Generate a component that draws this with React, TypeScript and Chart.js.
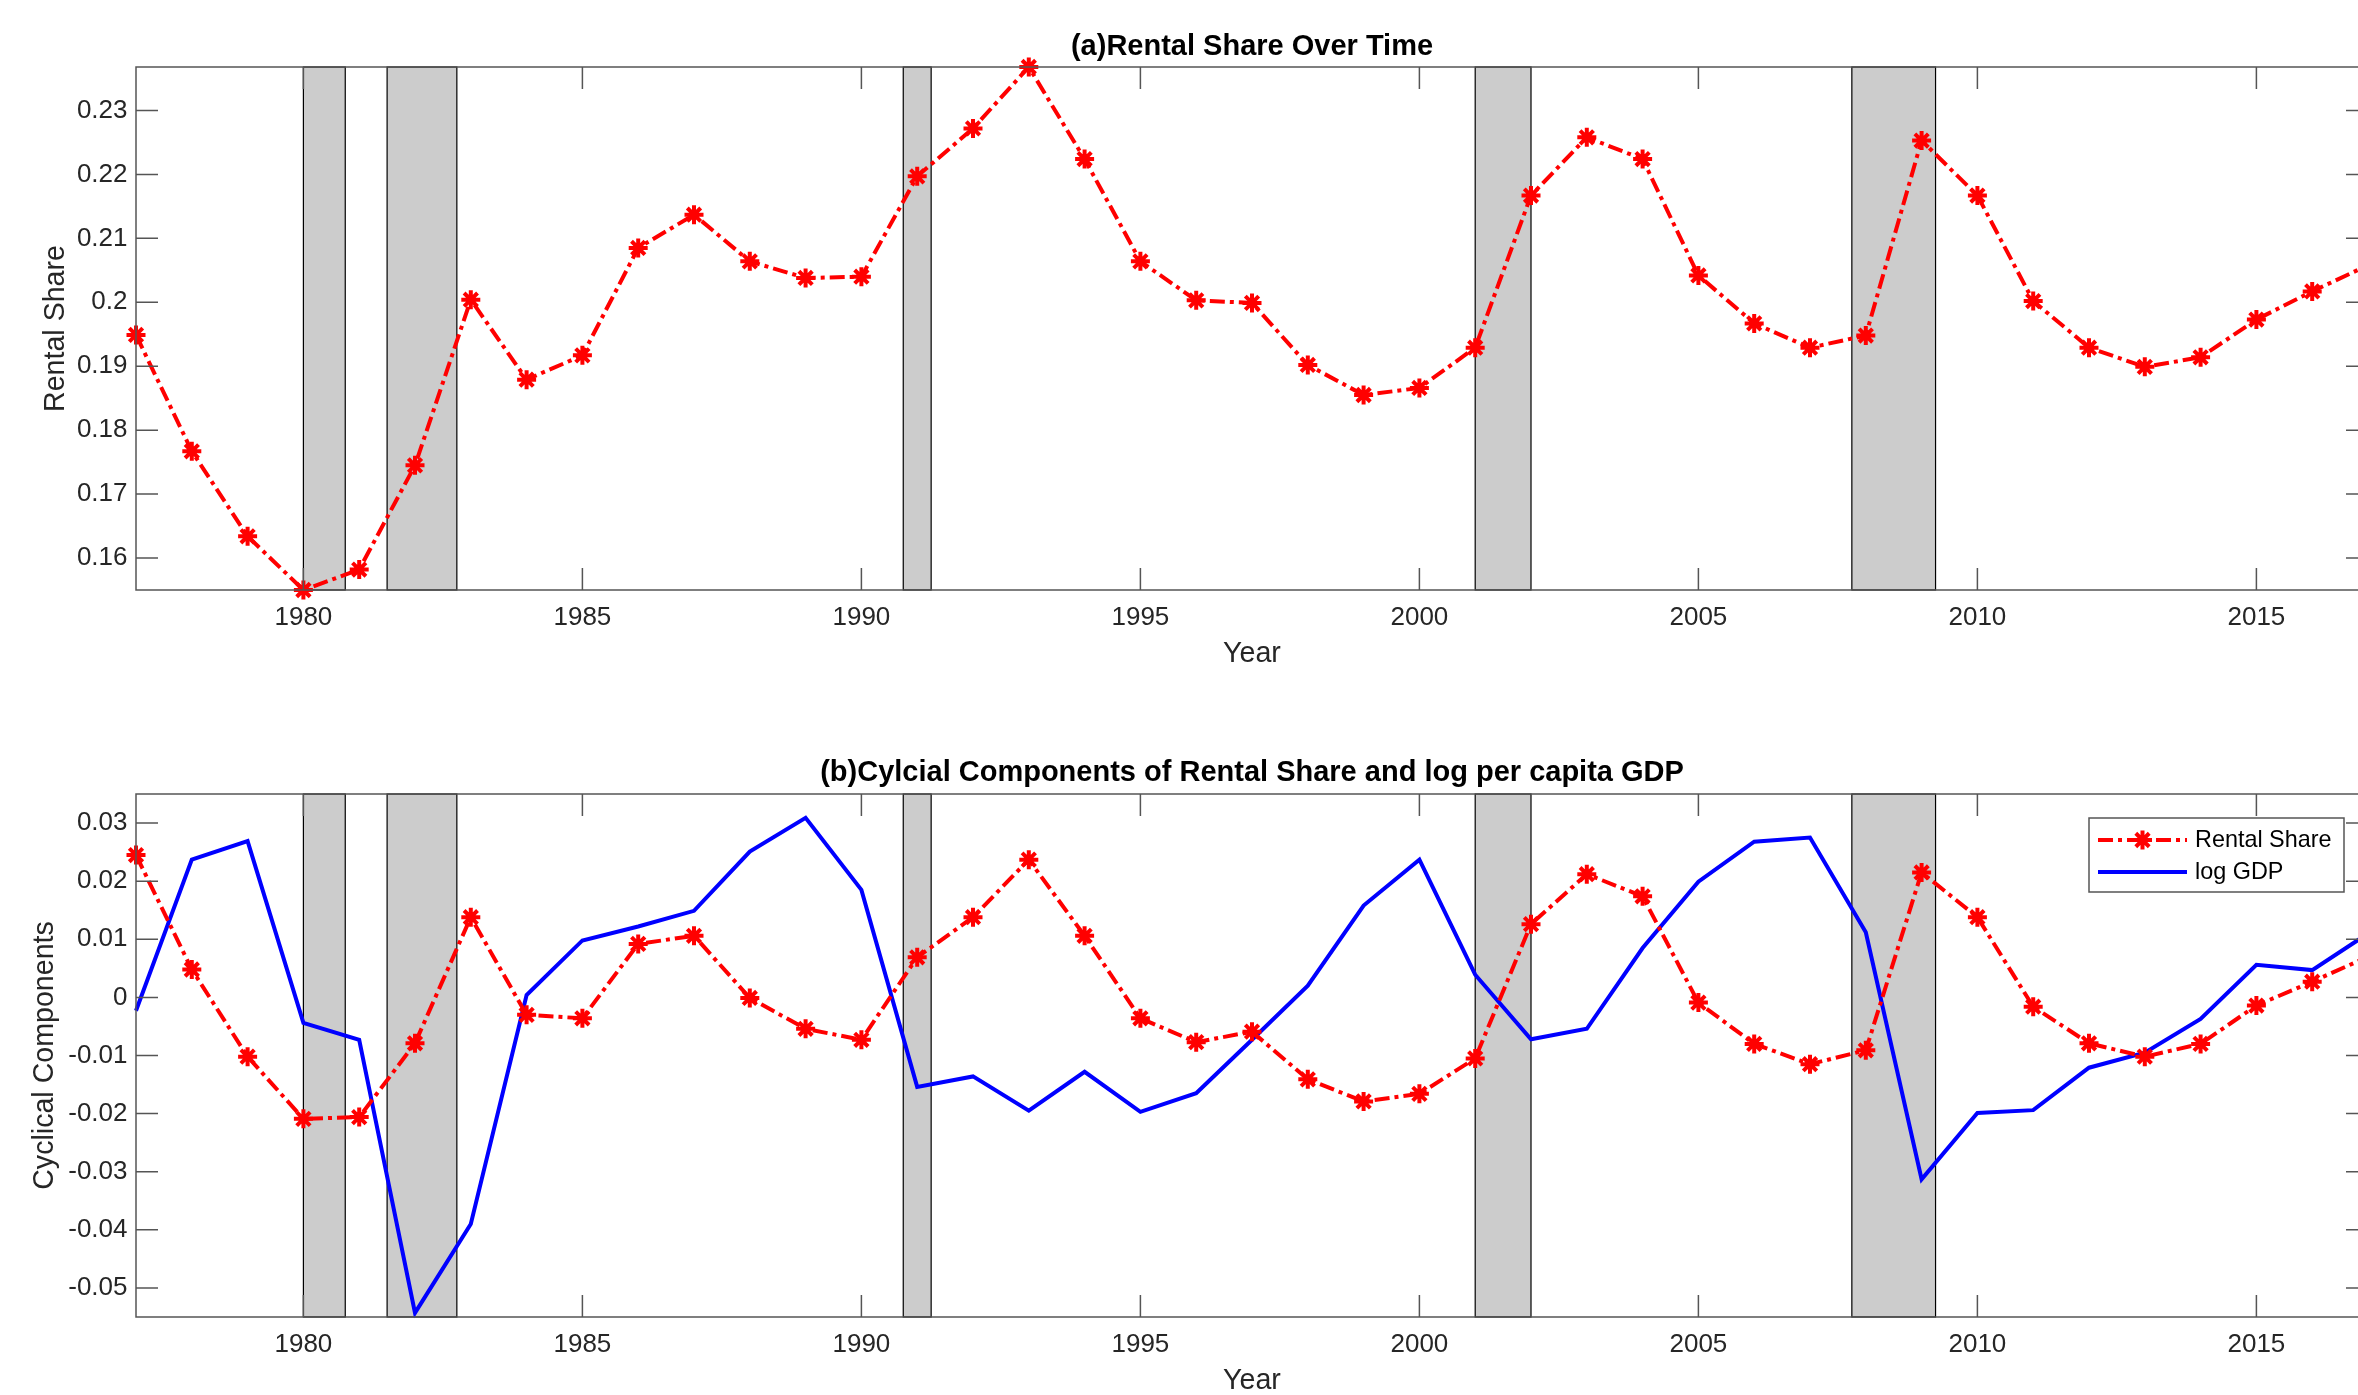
import React, { useEffect, useRef } from "react";
import { Chart, registerables } from "chart.js";

Chart.register(...registerables);

const FONT = "'Liberation Sans', Arial, Helvetica, sans-serif";

const years = [
  1977, 1978, 1979, 1980, 1981, 1982, 1983, 1984, 1985, 1986, 1987, 1988, 1989, 1990,
  1991, 1992, 1993, 1994, 1995, 1996, 1997, 1998, 1999, 2000, 2001, 2002, 2003, 2004,
  2005, 2006, 2007, 2008, 2009, 2010, 2011, 2012, 2013, 2014, 2015, 2016, 2017,
];

const rentalShare = [
  0.1949, 0.1767, 0.1634, 0.155, 0.1582, 0.1745, 0.2004, 0.1879, 0.1917, 0.2085, 0.2137,
  0.2064, 0.2038, 0.204, 0.2197, 0.2272, 0.2368, 0.2224, 0.2064, 0.2003, 0.1999, 0.1902,
  0.1855, 0.1866, 0.1929, 0.2167, 0.2258, 0.2224, 0.2042, 0.1967, 0.1929, 0.1948, 0.2253,
  0.2167, 0.2002, 0.1929, 0.1899, 0.1914, 0.1973, 0.2017, 0.2058,
];

const rentalCycle = [
  0.0245, 0.0048, -0.0102, -0.0209, -0.0206, -0.0079, 0.0138, -0.003, -0.0036, 0.0092,
  0.0106, -0.0001, -0.0054, -0.0073, 0.0069, 0.0138, 0.0237, 0.0106, -0.0036, -0.0077,
  -0.0059, -0.0141, -0.0179, -0.0166, -0.0105, 0.0126, 0.0212, 0.0174, -0.0009, -0.008,
  -0.0115, -0.0091, 0.0215, 0.0138, -0.0016, -0.0079, -0.0102, -0.008, -0.0014, 0.0027,
  0.007,
];

const gdpCycle = [
  -0.0023, 0.0237, 0.0269, -0.0044, -0.0073, -0.0543, -0.039, 0.0004, 0.0098, 0.0122,
  0.0149, 0.0251, 0.0309, 0.0185, -0.0154, -0.0136, -0.0195, -0.0128, -0.0197, -0.0165,
  -0.0073, 0.002, 0.0158, 0.0237, 0.0039, -0.0072, -0.0054, 0.0085, 0.0199, 0.0268,
  0.0275, 0.0112, -0.0313, -0.0199, -0.0194, -0.0121, -0.0095, -0.0037, 0.0056, 0.0047,
  0.011,
];

const recessionStart = [1980, 1981.5, 1990.75, 2001, 2007.75];
const recessionEnd = [1980.75, 1982.75, 1991.25, 2002, 2009.25];

const xTickYears = [1980, 1985, 1990, 1995, 2000, 2005, 2010, 2015];
const topYTicks = [0.16, 0.17, 0.18, 0.19, 0.2, 0.21, 0.22, 0.23];
const bottomYTicks = [-0.05, -0.04, -0.03, -0.02, -0.01, 0, 0.01, 0.02, 0.03];
const bottomYMin = -0.055;
const bottomYMax = 0.035;

const titleTop = "(a)Rental Share Over Time";
const titleBottom = "(b)Cylcial Components of Rental Share and log per capita GDP";
const xLabel = "Year";
const yLabelTop = "Rental Share";
const yLabelBottom = "Cyclical Components";
const seriesRental = "Rental Share";
const seriesGdp = "log GDP";

const RED = "#ff0000";
const BLUE = "#0000ff";
const AXIS = "#555555";
const TEXT = "#262626";
const DASH = [15, 5, 4, 5];

function drawStar(ctx: CanvasRenderingContext2D, x: number, y: number, r: number) {
  ctx.beginPath();
  for (let k = 0; k < 4; k++) {
    const a = (k * Math.PI) / 4;
    ctx.moveTo(x - r * Math.cos(a), y - r * Math.sin(a));
    ctx.lineTo(x + r * Math.cos(a), y + r * Math.sin(a));
  }
  ctx.stroke();
}

function fmt(v: number) {
  return String(parseFloat(Number(v).toFixed(3)));
}

type Decor = {
  title: string;
  yLabel: string;
  yLabelBaseline: number;
  titleBaseline: number;
  legend: boolean;
};

function decorPlugin(d: Decor) {
  return {
    id: "decor",
    beforeDatasetsDraw(chart: any) {
      const { ctx, chartArea: a, scales } = chart;
      const xs = scales.x;
      ctx.save();
      for (let i = 0; i < recessionStart.length; i++) {
        const x0 = xs.getPixelForValue(recessionStart[i]);
        const x1 = xs.getPixelForValue(recessionEnd[i]);
        ctx.fillStyle = "#cccccc";
        ctx.fillRect(x0, a.top, x1 - x0, a.bottom - a.top);
        ctx.strokeStyle = "#000000";
        ctx.lineWidth = 1.2;
        ctx.strokeRect(x0, a.top, x1 - x0, a.bottom - a.top);
      }
      ctx.restore();
    },
    afterDatasetsDraw(chart: any) {
      const { ctx, chartArea: a, scales } = chart;
      ctx.save();
      ctx.strokeStyle = AXIS;
      ctx.lineWidth = 1.5;
      ctx.strokeRect(a.left, a.top, a.right - a.left, a.bottom - a.top);
      const TL = 22;
      ctx.beginPath();
      for (const t of scales.x.ticks) {
        const px = scales.x.getPixelForValue(t.value);
        ctx.moveTo(px, a.bottom);
        ctx.lineTo(px, a.bottom - TL);
        ctx.moveTo(px, a.top);
        ctx.lineTo(px, a.top + TL);
      }
      for (const t of scales.y.ticks) {
        const py = scales.y.getPixelForValue(t.value);
        ctx.moveTo(a.left, py);
        ctx.lineTo(a.left + TL, py);
        ctx.moveTo(a.right, py);
        ctx.lineTo(a.right - TL, py);
      }
      ctx.stroke();
      ctx.restore();
    },
    afterDraw(chart: any) {
      const { ctx, chartArea: a } = chart;
      const cx = (a.left + a.right) / 2;
      const cy = (a.top + a.bottom) / 2;
      ctx.save();
      ctx.fillStyle = "#000000";
      ctx.font = `bold 29px ${FONT}`;
      ctx.textAlign = "center";
      ctx.textBaseline = "alphabetic";
      ctx.fillText(d.title, cx, a.top - d.titleBaseline);
      ctx.fillStyle = TEXT;
      ctx.font = `28.6px ${FONT}`;
      ctx.fillText(xLabel, cx, a.bottom + 72);
      ctx.save();
      ctx.translate(a.left - d.yLabelBaseline, cy);
      ctx.rotate(-Math.PI / 2);
      ctx.fillText(d.yLabel, 0, 0);
      ctx.restore();

      if (d.legend) {
        const bw = 255;
        const bh = 74;
        const bl = a.right - 24 - bw;
        const bt = a.top + 24;
        ctx.fillStyle = "#ffffff";
        ctx.fillRect(bl, bt, bw, bh);
        ctx.strokeStyle = AXIS;
        ctx.lineWidth = 1.5;
        ctx.strokeRect(bl, bt, bw, bh);
        const rows = [bt + 22, bt + 54];
        chart.data.datasets.forEach((ds: any, i: number) => {
          const y = rows[i];
          ctx.save();
          ctx.strokeStyle = ds.borderColor;
          ctx.lineWidth = ds.borderWidth;
          ctx.setLineDash(ds.borderDash || []);
          ctx.beginPath();
          ctx.moveTo(bl + 9, y);
          ctx.lineTo(bl + 98, y);
          ctx.stroke();
          ctx.setLineDash([]);
          if (ds.pointRadius > 0) {
            ctx.lineWidth = ds.pointBorderWidth;
            drawStar(ctx, bl + 53.5, y, ds.pointRadius);
          }
          ctx.restore();
          ctx.fillStyle = "#000000";
          ctx.font = `23.4px ${FONT}`;
          ctx.textAlign = "left";
          ctx.textBaseline = "middle";
          ctx.fillText(ds.label, bl + 106, y + 1);
        });
      }
      ctx.restore();
    },
  };
}

function pts(arr: number[]) {
  return years.map((x, i) => ({ x, y: arr[i] }));
}

function rentalDataset(arr: number[]) {
  return {
    label: seriesRental,
    data: pts(arr),
    borderColor: RED,
    backgroundColor: RED,
    borderWidth: 4,
    borderDash: DASH,
    pointStyle: "star",
    pointRadius: 9.5,
    pointBorderWidth: 4,
    pointBorderColor: RED,
    pointBackgroundColor: RED,
    tension: 0,
    fill: false,
    clip: false,
  };
}

function buildConfig(datasets: any[], yMin: number, yMax: number, yTicks: number[], d: Decor): any {
  return {
    type: "line",
    data: { datasets },
    options: {
      animation: false,
      responsive: false,
      devicePixelRatio: 1,
      events: [],
      layout: { padding: { left: 0, right: 132, top: 67, bottom: 0 } },
      plugins: {
        legend: { display: false },
        title: { display: false },
        tooltip: { enabled: false },
      },
      scales: {
        x: {
          type: "linear",
          min: 1977,
          max: 2017,
          afterBuildTicks: (s: any) => {
            s.ticks = xTickYears.map((v) => ({ value: v }));
          },
          afterFit: (s: any) => {
            s.height = 78;
          },
          grid: { display: false, drawTicks: false },
          border: { display: false },
          ticks: {
            autoSkip: false,
            maxRotation: 0,
            padding: 12.5,
            color: TEXT,
            font: { family: FONT, size: 26 },
            callback: (v: any) => String(v),
          },
        },
        y: {
          type: "linear",
          min: yMin,
          max: yMax,
          afterBuildTicks: (s: any) => {
            s.ticks = yTicks.map((v) => ({ value: v }));
          },
          afterFit: (s: any) => {
            s.width = 136;
          },
          grid: { display: false, drawTicks: false },
          border: { display: false },
          ticks: {
            padding: 8.5,
            color: TEXT,
            font: { family: FONT, size: 26 },
            callback: (v: any) => fmt(v),
          },
        },
      },
    },
    plugins: [decorPlugin(d)],
  };
}

export default function App() {
  const topRef = useRef<HTMLCanvasElement>(null);
  const botRef = useRef<HTMLCanvasElement>(null);

  useEffect(() => {
    const topMin = Math.min(...rentalShare);
    const topMax = Math.max(...rentalShare);
    const c1 = new Chart(
      topRef.current as HTMLCanvasElement,
      buildConfig([rentalDataset(rentalShare)], topMin, topMax, topYTicks, {
        title: titleTop,
        yLabel: yLabelTop,
        yLabelBaseline: 72,
        titleBaseline: 12.5,
        legend: false,
      })
    );
    const c2 = new Chart(
      botRef.current as HTMLCanvasElement,
      buildConfig(
        [
          rentalDataset(rentalCycle),
          {
            label: seriesGdp,
            data: pts(gdpCycle),
            borderColor: BLUE,
            backgroundColor: BLUE,
            borderWidth: 4,
            pointRadius: 0,
            tension: 0,
            fill: false,
            clip: false,
          },
        ],
        bottomYMin,
        bottomYMax,
        bottomYTicks,
        {
          title: titleBottom,
          yLabel: yLabelBottom,
          yLabelBaseline: 83.5,
          titleBaseline: 13,
          legend: true,
        }
      )
    );
    return () => {
      c1.destroy();
      c2.destroy();
    };
  }, []);

  return (
    <div
      style={{
        position: "fixed",
        left: 0,
        top: 0,
        width: "100vw",
        height: "100vh",
        overflow: "hidden",
        background: "#ffffff",
      }}
    >
      <canvas
        ref={topRef}
        width={2500}
        height={668}
        style={{ position: "absolute", left: 0, top: 0, width: 2500, height: 668 }}
      />
      <canvas
        ref={botRef}
        width={2500}
        height={668}
        style={{ position: "absolute", left: 0, top: 727, width: 2500, height: 668 }}
      />
    </div>
  );
}
